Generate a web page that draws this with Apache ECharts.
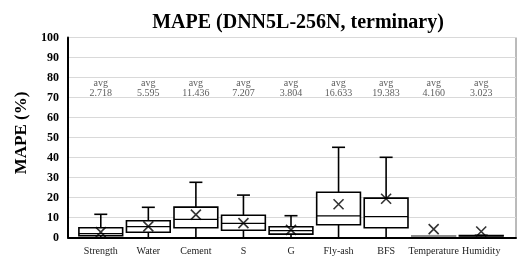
<!DOCTYPE html>
<html>
<head>
<meta charset="utf-8">
<script src="https://cdn.jsdelivr.net/npm/echarts@6/dist/echarts.min.js"></script>
<style>html,body{margin:0;padding:0;background:#fff}#c{width:518px;height:257px}</style>
</head>
<body>
<div id="c"></div>
<script>
const categories = ['Strength','Water','Cement','S','G','Fly-ash','BFS','Temperature','Humidity'];
// [min, q1, median, q3, max]
const boxStats = [
  [0, 0.9, 1.9, 4.9, 11.6],
  [0, 2.6, 5.4, 8.4, 15.1],
  [0, 4.9, 9.1, 15.2, 27.6],
  [0, 3.6, 7.1, 11.1, 21.2],
  [0, 1.7, 3.4, 5.4, 10.9],
  [0, 6.4, 10.8, 22.6, 45.1],
  [0, 4.9, 10.4, 19.7, 40.1],
  [0.5, 0.6, 0.7, 0.8, 0.9],
  [0.6, 0.8, 0.9, 1.0, 1.1]
];
const averages = [2.718, 5.595, 11.436, 7.207, 3.804, 16.633, 19.383, 4.160, 3.023];
const yTicks = [0,10,20,30,40,50,60,70,80,90,100];
const avgLabelLevel = 74.5;
const boxColors = ['#000','#000','#000','#000','#000','#000','#000','#8c8c8c','#000'];

const serif = '"Liberation Serif","Times New Roman",serif';
const chart = echarts.init(document.getElementById('c'), null, {renderer:'canvas'});

const boxData = boxStats.map((s,i)=>[i].concat(s));

chart.setOption({
  animation:false,
  title:{
    text:'MAPE (DNN5L-256N, terminary)',
    left:293, top:8, textAlign:'center',
    textStyle:{fontFamily:serif,fontWeight:'bold',fontSize:20,color:'#000'}
  },
  graphic:[{
    type:'text', x:22, y:133, rotation:Math.PI/2, 
    style:{text:'MAPE (%)', font:'bold 17px '+serif, fill:'#000', textAlign:'center', textVerticalAlign:'middle'}
  }],
  grid:[
    {left:68,right:2,top:37.5,bottom:19.5,show:true,borderColor:'#777',borderWidth:1},
    {left:77,right:13,top:37.5,bottom:19.5}
  ],
  xAxis:[
    {gridIndex:0,type:'value',min:0,max:1,axisLabel:{show:false},axisTick:{show:false},splitLine:{show:false},
     axisLine:{show:true,lineStyle:{color:'#000',width:2}}},
    {gridIndex:1,type:'category',data:categories,axisLine:{show:false},axisTick:{show:false},
     axisLabel:{fontFamily:serif,fontSize:10,color:'#222',margin:9,interval:0}}
  ],
  yAxis:[
    {gridIndex:0,type:'value',min:0,max:100,interval:10,
     axisLine:{show:true,lineStyle:{color:'#000',width:2}},axisTick:{show:false},
     axisLabel:{fontFamily:serif,fontWeight:'bold',fontSize:12,color:'#000',margin:9,
       formatter:v=>yTicks.includes(v)?String(v):''},
     splitLine:{show:true,lineStyle:{color:'#d9d9d9',width:1}}},
    {gridIndex:1,type:'value',min:0,max:100,show:false}
  ],
  series:[
    {
      type:'custom', xAxisIndex:1, yAxisIndex:1, data:boxData,
      encode:{x:0,y:[1,2,3,4,5]},
      renderItem:function(params, api){
        const i = api.value(0);
        const mn=api.coord([i,api.value(1)]), q1=api.coord([i,api.value(2)]),
              md=api.coord([i,api.value(3)]), q3=api.coord([i,api.value(4)]),
              mx=api.coord([i,api.value(5)]);
        const w = api.size([1,0])[0]*0.92;
        const cx = mn[0], cap=6.5;
        const col = boxColors[params.dataIndex];
        const ls = {stroke:col,lineWidth:1.6,fill:null};
        return {type:'group',children:[
          {type:'line',shape:{x1:cx,y1:q3[1],x2:cx,y2:mx[1]},style:ls},
          {type:'line',shape:{x1:cx-cap,y1:mx[1],x2:cx+cap,y2:mx[1]},style:ls},
          {type:'line',shape:{x1:cx,y1:q1[1],x2:cx,y2:mn[1]},style:ls},
          {type:'rect',shape:{x:cx-w/2,y:q3[1],width:w,height:q1[1]-q3[1]},style:{stroke:col,lineWidth:1.6,fill:'#fff'}},
          {type:'line',shape:{x1:cx-w/2,y1:md[1],x2:cx+w/2,y2:md[1]},style:{stroke:col,lineWidth:1.2}}
        ]};
      },
      z:3
    },
    {
      type:'scatter', xAxisIndex:1, yAxisIndex:1,
      data:averages.map((v,i)=>[i,v]),
      symbol:'path://M0,0L10,10M10,0L0,10', symbolSize:10,
      itemStyle:{color:'none',borderColor:'#000',borderWidth:1.6},
      z:5
    },
    {
      type:'scatter', xAxisIndex:1, yAxisIndex:1,
      data:averages.map((v,i)=>[i,avgLabelLevel]),
      symbolSize:0,
      label:{show:true,position:'inside',fontFamily:serif,fontSize:10,color:'#333',lineHeight:10,
        formatter:p=>'avg\n'+averages[p.dataIndex].toFixed(3)},
      z:4
    }
  ]
});
</script>
</body>
</html>
